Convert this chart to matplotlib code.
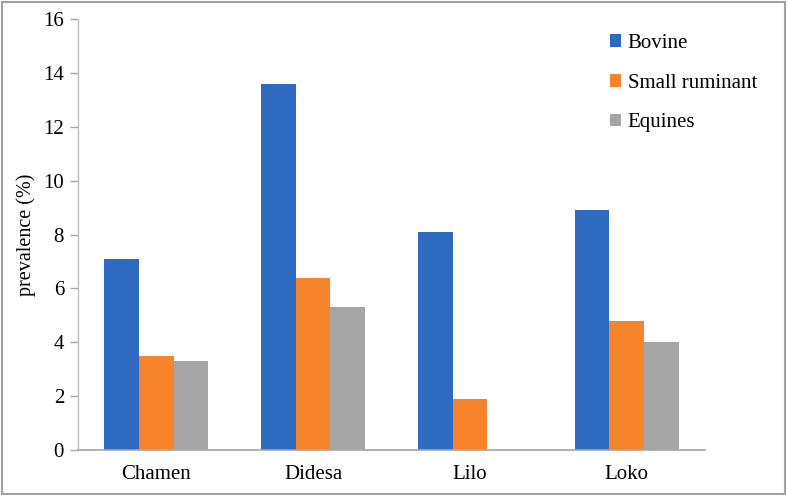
import matplotlib
matplotlib.use("Agg")
import matplotlib.pyplot as plt
import numpy as np
from matplotlib.patches import Rectangle

plt.rcParams['font.family'] = ['Liberation Serif', 'DejaVu Serif']

categories = ["Chamen", "Didesa", "Lilo", "Loko"]
series_names = ["Bovine", "Small ruminant", "Equines"]
bovine = [7.1, 13.6, 8.1, 8.9]
small_ruminant = [3.5, 6.4, 1.9, 4.8]
equines = [3.3, 5.3, 0.0, 4.0]
colors = ["#2E6AC0", "#F7832A", "#A5A5A5"]
yticks = [0, 2, 4, 6, 8, 10, 12, 14, 16]

fig = plt.figure(figsize=(7.87, 4.95), dpi=100)
ax = fig.add_axes([78/787, 1 - 450/495, (705-78)/787, (450-19)/495])

x = np.arange(len(categories))
w = 0.221
for i, (vals, name, c) in enumerate(zip([bovine, small_ruminant, equines], series_names, colors)):
    ax.bar(x + (i - 1) * w, vals, width=w, color=c, label=name, zorder=2)

ax.set_xlim(-0.5, len(categories) - 0.5)
ax.set_ylim(0, 16)
ax.set_yticks(yticks)
ax.set_xticks(x)
ax.set_xticklabels(categories, fontsize=15)
ax.tick_params(axis='y', labelsize=15, length=6, color='#A6A6A6', width=1, pad=4)
ax.tick_params(axis='x', length=0, pad=11)
for s in ['top', 'right']:
    ax.spines[s].set_visible(False)
ax.spines['left'].set_color('#BFBFBF')
ax.spines['bottom'].set_color('#A6A6A6')
ax.spines['left'].set_linewidth(1)
ax.spines['bottom'].set_linewidth(1.2)
ax.set_ylabel("prevalence (%)", fontsize=14.5, labelpad=5)

leg = ax.legend(loc='upper left', bbox_to_anchor=(0.835, 0.985), frameon=False,
                fontsize=15, handlelength=0.55, handleheight=0.55, handletextpad=0.3,
                labelspacing=1.0, borderaxespad=0)

fig.patches.append(Rectangle((0.002, 0.002), 0.996, 0.994, transform=fig.transFigure,
                             fill=False, edgecolor='#A0A0A0', linewidth=1.5))

fig.savefig("out.png", dpi=100)
